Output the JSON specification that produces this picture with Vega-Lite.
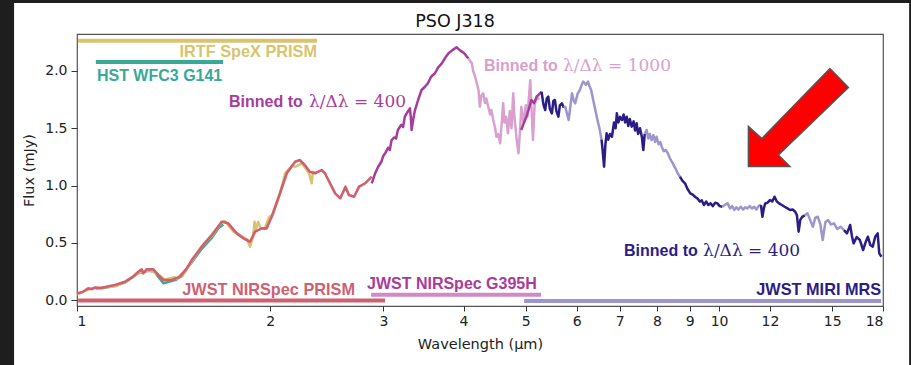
{
  "$schema": "https://vega.github.io/schema/vega-lite/v6.json",
  "width": 806,
  "height": 272,
  "autosize": {"type": "none"},
  "padding": {"left": 77, "top": 34, "right": 28, "bottom": 59},
  "background": "#ffffff",
  "title": {"text": "PSO J318", "font": "DejaVu Sans", "fontSize": 17.5, "fontWeight": "normal", "color": "#111111", "anchor": "middle", "baseline": "bottom", "offset": 0, "dy": 49, "dx": -25, "zindex": 1},
  "config": {
    "view": {"stroke": "#555555", "strokeWidth": 1.2},
    "axis": {"grid": false, "domain": false, "tickColor": "#333333", "tickSize": 5, "labelFont": "DejaVu Sans", "labelFontSize": 14, "labelColor": "#222222", "titleFont": "DejaVu Sans", "titleFontSize": 14.5, "titleFontWeight": "normal", "titleColor": "#222222"}
  },
  "datasets": {
    "spec": [
      {"s":"h1","k":"HST","w":1.07,"f":0.1},{"s":"h1","k":"HST","w":1.1,"f":0.105},{"s":"h1","k":"HST","w":1.146,"f":0.125},{"s":"h1","k":"HST","w":1.19,"f":0.155},{"s":"h1","k":"HST","w":1.246,"f":0.235},{"s":"h1","k":"HST","w":1.29,"f":0.255},{"s":"h1","k":"HST","w":1.32,"f":0.25},{"s":"h1","k":"HST","w":1.34,"f":0.2},{"s":"h1","k":"HST","w":1.363,"f":0.146},{"s":"h1","k":"HST","w":1.39,"f":0.16},{"s":"h1","k":"HST","w":1.43,"f":0.18},{"s":"h1","k":"HST","w":1.47,"f":0.25},{"s":"h1","k":"HST","w":1.51,"f":0.33},{"s":"h1","k":"HST","w":1.56,"f":0.44},{"s":"h1","k":"HST","w":1.62,"f":0.54},{"s":"h1","k":"HST","w":1.66,"f":0.626},{"s":"h1","k":"HST","w":1.69,"f":0.66},
      {"s":"s1","k":"SpeX","w":1.0,"f":0.05},{"s":"s1","k":"SpeX","w":1.05,"f":0.1},{"s":"s1","k":"SpeX","w":1.1,"f":0.11},{"s":"s1","k":"SpeX","w":1.15,"f":0.12},{"s":"s1","k":"SpeX","w":1.2,"f":0.17},{"s":"s1","k":"SpeX","w":1.25,"f":0.24},{"s":"s1","k":"SpeX","w":1.3,"f":0.26},{"s":"s1","k":"SpeX","w":1.34,"f":0.22},{"s":"s1","k":"SpeX","w":1.37,"f":0.18},{"s":"s1","k":"SpeX","w":1.42,"f":0.2},{"s":"s1","k":"SpeX","w":1.43,"f":0.185},{"s":"s1","k":"SpeX","w":1.46,"f":0.21},{"s":"s1","k":"SpeX","w":1.51,"f":0.34},{"s":"s1","k":"SpeX","w":1.56,"f":0.46},{"s":"s1","k":"SpeX","w":1.62,"f":0.56},{"s":"s1","k":"SpeX","w":1.68,"f":0.68},{"s":"s1","k":"SpeX","w":1.7,"f":0.69},{"s":"s1","k":"SpeX","w":1.75,"f":0.6},{"s":"s1","k":"SpeX","w":1.78,"f":0.58},{"s":"s1","k":"SpeX","w":1.8,"f":0.56},{"s":"s1","k":"SpeX","w":1.84,"f":0.53},{"s":"s1","k":"SpeX","w":1.86,"f":0.466},{"s":"s1","k":"SpeX","w":1.88,"f":0.55},{"s":"s1","k":"SpeX","w":1.89,"f":0.684},{"s":"s1","k":"SpeX","w":1.9,"f":0.62},{"s":"s1","k":"SpeX","w":1.915,"f":0.684},{"s":"s1","k":"SpeX","w":1.93,"f":0.63},{"s":"s1","k":"SpeX","w":1.96,"f":0.62},{"s":"s1","k":"SpeX","w":1.99,"f":0.72},{"s":"s1","k":"SpeX","w":2.02,"f":0.75},{"s":"s1","k":"SpeX","w":2.07,"f":0.93},{"s":"s1","k":"SpeX","w":2.11,"f":1.107},{"s":"s1","k":"SpeX","w":2.13,"f":1.135},{"s":"s1","k":"SpeX","w":2.16,"f":1.17},{"s":"s1","k":"SpeX","w":2.19,"f":1.164},{"s":"s1","k":"SpeX","w":2.24,"f":1.194},{"s":"s1","k":"SpeX","w":2.27,"f":1.15},{"s":"s1","k":"SpeX","w":2.3,"f":1.1},{"s":"s1","k":"SpeX","w":2.32,"f":1.019},{"s":"s1","k":"SpeX","w":2.33,"f":1.12},{"s":"s1","k":"SpeX","w":2.36,"f":1.1},
      {"s":"p1","k":"PRISM","w":1.0,"f":0.058},{"s":"p1","k":"PRISM","w":1.02,"f":0.07},{"s":"p1","k":"PRISM","w":1.041,"f":0.102},{"s":"p1","k":"PRISM","w":1.055,"f":0.095},{"s":"p1","k":"PRISM","w":1.067,"f":0.11},{"s":"p1","k":"PRISM","w":1.09,"f":0.105},{"s":"p1","k":"PRISM","w":1.12,"f":0.12},{"s":"p1","k":"PRISM","w":1.146,"f":0.131},{"s":"p1","k":"PRISM","w":1.188,"f":0.16},{"s":"p1","k":"PRISM","w":1.22,"f":0.2},{"s":"p1","k":"PRISM","w":1.246,"f":0.247},{"s":"p1","k":"PRISM","w":1.261,"f":0.268},{"s":"p1","k":"PRISM","w":1.268,"f":0.233},{"s":"p1","k":"PRISM","w":1.284,"f":0.268},{"s":"p1","k":"PRISM","w":1.315,"f":0.268},{"s":"p1","k":"PRISM","w":1.339,"f":0.218},{"s":"p1","k":"PRISM","w":1.363,"f":0.175},{"s":"p1","k":"PRISM","w":1.404,"f":0.175},{"s":"p1","k":"PRISM","w":1.447,"f":0.204},{"s":"p1","k":"PRISM","w":1.48,"f":0.27},{"s":"p1","k":"PRISM","w":1.509,"f":0.349},{"s":"p1","k":"PRISM","w":1.564,"f":0.466},{"s":"p1","k":"PRISM","w":1.621,"f":0.568},{"s":"p1","k":"PRISM","w":1.681,"f":0.684},{"s":"p1","k":"PRISM","w":1.72,"f":0.67},{"s":"p1","k":"PRISM","w":1.773,"f":0.582},{"s":"p1","k":"PRISM","w":1.816,"f":0.539},{"s":"p1","k":"PRISM","w":1.86,"f":0.509},{"s":"p1","k":"PRISM","w":1.894,"f":0.597},{"s":"p1","k":"PRISM","w":1.94,"f":0.626},{"s":"p1","k":"PRISM","w":1.974,"f":0.626},{"s":"p1","k":"PRISM","w":2.01,"f":0.727},{"s":"p1","k":"PRISM","w":2.071,"f":0.932},{"s":"p1","k":"PRISM","w":2.122,"f":1.107},{"s":"p1","k":"PRISM","w":2.186,"f":1.208},{"s":"p1","k":"PRISM","w":2.223,"f":1.223},{"s":"p1","k":"PRISM","w":2.263,"f":1.179},{"s":"p1","k":"PRISM","w":2.304,"f":1.121},{"s":"p1","k":"PRISM","w":2.347,"f":1.107},{"s":"p1","k":"PRISM","w":2.404,"f":1.135},{"s":"p1","k":"PRISM","w":2.433,"f":1.107},{"s":"p1","k":"PRISM","w":2.478,"f":1.019},{"s":"p1","k":"PRISM","w":2.524,"f":0.932},{"s":"p1","k":"PRISM","w":2.571,"f":0.888},{"s":"p1","k":"PRISM","w":2.619,"f":0.99},{"s":"p1","k":"PRISM","w":2.651,"f":0.917},{"s":"p1","k":"PRISM","w":2.701,"f":0.902},{"s":"p1","k":"PRISM","w":2.75,"f":0.99},{"s":"p1","k":"PRISM","w":2.81,"f":1.019},{"s":"p1","k":"PRISM","w":2.878,"f":1.077},
      {"s":"k1","k":"G1000","w":4.07,"f":2.11},{"s":"k1","k":"G1000","w":4.12,"f":2.067},{"s":"k1","k":"G1000","w":4.14,"f":2.0},{"s":"k1","k":"G1000","w":4.17,"f":1.95},{"s":"k1","k":"G1000","w":4.2,"f":1.88},{"s":"k1","k":"G1000","w":4.22,"f":1.834},{"s":"k1","k":"G1000","w":4.24,"f":1.688},{"s":"k1","k":"G1000","w":4.26,"f":1.78},{"s":"k1","k":"G1000","w":4.29,"f":1.805},{"s":"k1","k":"G1000","w":4.32,"f":1.72},{"s":"k1","k":"G1000","w":4.34,"f":1.76},{"s":"k1","k":"G1000","w":4.37,"f":1.688},{"s":"k1","k":"G1000","w":4.4,"f":1.62},{"s":"k1","k":"G1000","w":4.42,"f":1.66},{"s":"k1","k":"G1000","w":4.45,"f":1.572},{"s":"k1","k":"G1000","w":4.48,"f":1.5},{"s":"k1","k":"G1000","w":4.5,"f":1.426},{"s":"k1","k":"G1000","w":4.53,"f":1.45},{"s":"k1","k":"G1000","w":4.56,"f":1.369},{"s":"k1","k":"G1000","w":4.58,"f":1.5},{"s":"k1","k":"G1000","w":4.61,"f":1.718},{"s":"k1","k":"G1000","w":4.63,"f":1.55},{"s":"k1","k":"G1000","w":4.66,"f":1.6},{"s":"k1","k":"G1000","w":4.69,"f":1.456},{"s":"k1","k":"G1000","w":4.72,"f":1.65},{"s":"k1","k":"G1000","w":4.75,"f":1.5},{"s":"k1","k":"G1000","w":4.78,"f":1.805},{"s":"k1","k":"G1000","w":4.8,"f":1.6},{"s":"k1","k":"G1000","w":4.84,"f":1.397},{"s":"k1","k":"G1000","w":4.87,"f":1.281},{"s":"k1","k":"G1000","w":4.9,"f":1.5},{"s":"k1","k":"G1000","w":4.92,"f":1.688},{"s":"k1","k":"G1000","w":4.96,"f":1.55},{"s":"k1","k":"G1000","w":5.0,"f":1.7},{"s":"k1","k":"G1000","w":5.03,"f":1.6},{"s":"k1","k":"G1000","w":5.08,"f":1.92},{"s":"k1","k":"G1000","w":5.11,"f":1.6},{"s":"k1","k":"G1000","w":5.13,"f":1.397},{"s":"k1","k":"G1000","w":5.16,"f":1.7},{"s":"k1","k":"G1000","w":5.2,"f":1.78},{"s":"k1","k":"G1000","w":5.24,"f":1.75},
      {"s":"g1","k":"G395H","w":2.878,"f":1.019},{"s":"g1","k":"G395H","w":2.91,"f":1.1},{"s":"g1","k":"G395H","w":2.945,"f":1.164},{"s":"g1","k":"G395H","w":2.98,"f":1.21},{"s":"g1","k":"G395H","w":3.0,"f":1.26},{"s":"g1","k":"G395H","w":3.02,"f":1.281},{"s":"g1","k":"G395H","w":3.05,"f":1.33},{"s":"g1","k":"G395H","w":3.07,"f":1.31},{"s":"g1","k":"G395H","w":3.09,"f":1.397},{"s":"g1","k":"G395H","w":3.12,"f":1.42},{"s":"g1","k":"G395H","w":3.14,"f":1.41},{"s":"g1","k":"G395H","w":3.16,"f":1.485},{"s":"g1","k":"G395H","w":3.2,"f":1.53},{"s":"g1","k":"G395H","w":3.22,"f":1.51},{"s":"g1","k":"G395H","w":3.24,"f":1.601},{"s":"g1","k":"G395H","w":3.27,"f":1.64},{"s":"g1","k":"G395H","w":3.3,"f":1.674},{"s":"g1","k":"G395H","w":3.31,"f":1.6},{"s":"g1","k":"G395H","w":3.32,"f":1.485},{"s":"g1","k":"G395H","w":3.34,"f":1.58},{"s":"g1","k":"G395H","w":3.36,"f":1.659},{"s":"g1","k":"G395H","w":3.4,"f":1.75},{"s":"g1","k":"G395H","w":3.44,"f":1.834},{"s":"g1","k":"G395H","w":3.48,"f":1.86},{"s":"g1","k":"G395H","w":3.52,"f":1.893},{"s":"g1","k":"G395H","w":3.56,"f":1.95},{"s":"g1","k":"G395H","w":3.61,"f":1.98},{"s":"g1","k":"G395H","w":3.65,"f":2.03},{"s":"g1","k":"G395H","w":3.7,"f":2.067},{"s":"g1","k":"G395H","w":3.75,"f":2.12},{"s":"g1","k":"G395H","w":3.79,"f":2.155},{"s":"g1","k":"G395H","w":3.84,"f":2.18},{"s":"g1","k":"G395H","w":3.9,"f":2.207},{"s":"g1","k":"G395H","w":3.95,"f":2.18},{"s":"g1","k":"G395H","w":4.01,"f":2.155},{"s":"g1","k":"G395H","w":4.04,"f":2.13},{"s":"g1","k":"G395H","w":4.07,"f":2.11},
      {"s":"g2","k":"G395H","w":4.92,"f":1.485},{"s":"g2","k":"G395H","w":4.96,"f":1.54},{"s":"g2","k":"G395H","w":5.01,"f":1.601},{"s":"g2","k":"G395H","w":5.05,"f":1.66},{"s":"g2","k":"G395H","w":5.1,"f":1.747},{"s":"g2","k":"G395H","w":5.15,"f":1.72},{"s":"g2","k":"G395H","w":5.2,"f":1.776},{"s":"g2","k":"G395H","w":5.26,"f":1.805},{"s":"g2","k":"G395H","w":5.29,"f":1.819},
      {"s":"m1","k":"MIRI400","w":5.29,"f":1.819},{"s":"m1","k":"MIRI400","w":5.33,"f":1.7},{"s":"m1","k":"MIRI400","w":5.36,"f":1.659},{"s":"m1","k":"MIRI400","w":5.39,"f":1.76},{"s":"m1","k":"MIRI400","w":5.42,"f":1.776},{"s":"m1","k":"MIRI400","w":5.45,"f":1.67},{"s":"m1","k":"MIRI400","w":5.49,"f":1.63},{"s":"m1","k":"MIRI400","w":5.52,"f":1.74},{"s":"m1","k":"MIRI400","w":5.55,"f":1.747},{"s":"m1","k":"MIRI400","w":5.58,"f":1.65},{"s":"m1","k":"MIRI400","w":5.62,"f":1.601},{"s":"m1","k":"MIRI400","w":5.65,"f":1.7},{"s":"m1","k":"MIRI400","w":5.69,"f":1.718},{"s":"m1","k":"MIRI400","w":5.73,"f":1.68},
      {"s":"l1","k":"MIRI","w":5.73,"f":1.68},{"s":"l1","k":"MIRI","w":5.76,"f":1.688},{"s":"l1","k":"MIRI","w":5.8,"f":1.62},{"s":"l1","k":"MIRI","w":5.83,"f":1.572},{"s":"l1","k":"MIRI","w":5.87,"f":1.7},{"s":"l1","k":"MIRI","w":5.9,"f":1.805},{"s":"l1","k":"MIRI","w":5.94,"f":1.74},{"s":"l1","k":"MIRI","w":5.97,"f":1.718},{"s":"l1","k":"MIRI","w":6.02,"f":1.8},{"s":"l1","k":"MIRI","w":6.07,"f":1.834},{"s":"l1","k":"MIRI","w":6.1,"f":1.87},{"s":"l1","k":"MIRI","w":6.14,"f":1.907},{"s":"l1","k":"MIRI","w":6.2,"f":1.88},{"s":"l1","k":"MIRI","w":6.25,"f":1.907},{"s":"l1","k":"MIRI","w":6.28,"f":1.87},{"s":"l1","k":"MIRI","w":6.32,"f":1.834},{"s":"l1","k":"MIRI","w":6.36,"f":1.76},{"s":"l1","k":"MIRI","w":6.4,"f":1.688},{"s":"l1","k":"MIRI","w":6.46,"f":1.58},{"s":"l1","k":"MIRI","w":6.52,"f":1.485},{"s":"l1","k":"MIRI","w":6.56,"f":1.4},
      {"s":"m2","k":"MIRI400","w":6.56,"f":1.4},{"s":"m2","k":"MIRI400","w":6.58,"f":1.33},{"s":"m2","k":"MIRI400","w":6.62,"f":1.164},{"s":"m2","k":"MIRI400","w":6.65,"f":1.35},{"s":"m2","k":"MIRI400","w":6.68,"f":1.456},{"s":"m2","k":"MIRI400","w":6.72,"f":1.4},{"s":"m2","k":"MIRI400","w":6.76,"f":1.45},{"s":"m2","k":"MIRI400","w":6.81,"f":1.426},{"s":"m2","k":"MIRI400","w":6.86,"f":1.55},{"s":"m2","k":"MIRI400","w":6.9,"f":1.5},{"s":"m2","k":"MIRI400","w":6.93,"f":1.63},{"s":"m2","k":"MIRI400","w":6.97,"f":1.55},{"s":"m2","k":"MIRI400","w":7.01,"f":1.6},{"s":"m2","k":"MIRI400","w":7.06,"f":1.572},{"s":"m2","k":"MIRI400","w":7.1,"f":1.62},{"s":"m2","k":"MIRI400","w":7.14,"f":1.55},{"s":"m2","k":"MIRI400","w":7.18,"f":1.601},{"s":"m2","k":"MIRI400","w":7.22,"f":1.52},{"s":"m2","k":"MIRI400","w":7.26,"f":1.58},{"s":"m2","k":"MIRI400","w":7.31,"f":1.514},{"s":"m2","k":"MIRI400","w":7.36,"f":1.56},{"s":"m2","k":"MIRI400","w":7.4,"f":1.48},{"s":"m2","k":"MIRI400","w":7.44,"f":1.543},{"s":"m2","k":"MIRI400","w":7.48,"f":1.45},{"s":"m2","k":"MIRI400","w":7.53,"f":1.5},{"s":"m2","k":"MIRI400","w":7.58,"f":1.426},{"s":"m2","k":"MIRI400","w":7.62,"f":1.31},{"s":"m2","k":"MIRI400","w":7.66,"f":1.45},
      {"s":"l2","k":"MIRI","w":7.66,"f":1.45},{"s":"l2","k":"MIRI","w":7.71,"f":1.485},{"s":"l2","k":"MIRI","w":7.76,"f":1.41},{"s":"l2","k":"MIRI","w":7.8,"f":1.45},{"s":"l2","k":"MIRI","w":7.85,"f":1.397},{"s":"l2","k":"MIRI","w":7.9,"f":1.44},{"s":"l2","k":"MIRI","w":7.95,"f":1.38},{"s":"l2","k":"MIRI","w":7.99,"f":1.426},{"s":"l2","k":"MIRI","w":8.05,"f":1.36},{"s":"l2","k":"MIRI","w":8.1,"f":1.38},{"s":"l2","k":"MIRI","w":8.14,"f":1.339},{"s":"l2","k":"MIRI","w":8.2,"f":1.3},{"s":"l2","k":"MIRI","w":8.26,"f":1.31},{"s":"l2","k":"MIRI","w":8.32,"f":1.281},{"s":"l2","k":"MIRI","w":8.38,"f":1.24},{"s":"l2","k":"MIRI","w":8.47,"f":1.194},{"s":"l2","k":"MIRI","w":8.55,"f":1.15},{"s":"l2","k":"MIRI","w":8.62,"f":1.107},{"s":"l2","k":"MIRI","w":8.69,"f":1.077},
      {"s":"m3","k":"MIRI400","w":8.69,"f":1.077},{"s":"m3","k":"MIRI400","w":8.77,"f":1.04},{"s":"m3","k":"MIRI400","w":8.85,"f":1.019},{"s":"m3","k":"MIRI400","w":8.93,"f":0.97},{"s":"m3","k":"MIRI400","w":9.02,"f":0.932},{"s":"m3","k":"MIRI400","w":9.1,"f":0.92},{"s":"m3","k":"MIRI400","w":9.18,"f":0.9},{"s":"m3","k":"MIRI400","w":9.25,"f":0.888},{"s":"m3","k":"MIRI400","w":9.33,"f":0.86},{"s":"m3","k":"MIRI400","w":9.4,"f":0.87},{"s":"m3","k":"MIRI400","w":9.47,"f":0.83},{"s":"m3","k":"MIRI400","w":9.55,"f":0.86},{"s":"m3","k":"MIRI400","w":9.62,"f":0.83},{"s":"m3","k":"MIRI400","w":9.7,"f":0.844},{"s":"m3","k":"MIRI400","w":9.78,"f":0.82},{"s":"m3","k":"MIRI400","w":9.86,"f":0.85},{"s":"m3","k":"MIRI400","w":9.94,"f":0.844},{"s":"m3","k":"MIRI400","w":10.02,"f":0.82},{"s":"m3","k":"MIRI400","w":10.12,"f":0.815},
      {"s":"l3","k":"MIRI","w":10.12,"f":0.815},{"s":"l3","k":"MIRI","w":10.2,"f":0.83},{"s":"l3","k":"MIRI","w":10.31,"f":0.844},{"s":"l3","k":"MIRI","w":10.4,"f":0.8},{"s":"l3","k":"MIRI","w":10.48,"f":0.82},{"s":"l3","k":"MIRI","w":10.56,"f":0.786},{"s":"l3","k":"MIRI","w":10.64,"f":0.81},{"s":"l3","k":"MIRI","w":10.72,"f":0.79},{"s":"l3","k":"MIRI","w":10.81,"f":0.815},{"s":"l3","k":"MIRI","w":10.9,"f":0.79},{"s":"l3","k":"MIRI","w":10.98,"f":0.81},{"s":"l3","k":"MIRI","w":11.07,"f":0.8},{"s":"l3","k":"MIRI","w":11.16,"f":0.82},{"s":"l3","k":"MIRI","w":11.25,"f":0.8},{"s":"l3","k":"MIRI","w":11.34,"f":0.815},{"s":"l3","k":"MIRI","w":11.43,"f":0.79},{"s":"l3","k":"MIRI","w":11.52,"f":0.82},{"s":"l3","k":"MIRI","w":11.62,"f":0.83},
      {"s":"m4","k":"MIRI400","w":11.62,"f":0.83},{"s":"m4","k":"MIRI400","w":11.68,"f":0.727},{"s":"m4","k":"MIRI400","w":11.74,"f":0.8},{"s":"m4","k":"MIRI400","w":11.8,"f":0.844},{"s":"m4","k":"MIRI400","w":11.9,"f":0.85},{"s":"m4","k":"MIRI400","w":12.0,"f":0.873},{"s":"m4","k":"MIRI400","w":12.1,"f":0.86},{"s":"m4","k":"MIRI400","w":12.2,"f":0.902},{"s":"m4","k":"MIRI400","w":12.3,"f":0.86},{"s":"m4","k":"MIRI400","w":12.4,"f":0.844},{"s":"m4","k":"MIRI400","w":12.52,"f":0.83},{"s":"m4","k":"MIRI400","w":12.65,"f":0.815},{"s":"m4","k":"MIRI400","w":12.78,"f":0.8},{"s":"m4","k":"MIRI400","w":12.9,"f":0.786},{"s":"m4","k":"MIRI400","w":13.02,"f":0.79},{"s":"m4","k":"MIRI400","w":13.14,"f":0.771},{"s":"m4","k":"MIRI400","w":13.22,"f":0.74},{"s":"m4","k":"MIRI400","w":13.3,"f":0.597},{"s":"m4","k":"MIRI400","w":13.38,"f":0.7},{"s":"m4","k":"MIRI400","w":13.47,"f":0.727},{"s":"m4","k":"MIRI400","w":13.6,"f":0.74},
      {"s":"l4","k":"MIRI","w":13.6,"f":0.74},{"s":"l4","k":"MIRI","w":13.73,"f":0.757},{"s":"l4","k":"MIRI","w":13.86,"f":0.7},{"s":"l4","k":"MIRI","w":14.0,"f":0.64},{"s":"l4","k":"MIRI","w":14.12,"f":0.72},{"s":"l4","k":"MIRI","w":14.25,"f":0.727},{"s":"l4","k":"MIRI","w":14.38,"f":0.66},{"s":"l4","k":"MIRI","w":14.5,"f":0.524},{"s":"l4","k":"MIRI","w":14.64,"f":0.68},{"s":"l4","k":"MIRI","w":14.78,"f":0.699},{"s":"l4","k":"MIRI","w":14.94,"f":0.66},{"s":"l4","k":"MIRI","w":15.1,"f":0.67},{"s":"l4","k":"MIRI","w":15.28,"f":0.62},{"s":"l4","k":"MIRI","w":15.47,"f":0.64},{"s":"l4","k":"MIRI","w":15.65,"f":0.611},
      {"s":"m5","k":"MIRI400","w":15.65,"f":0.611},{"s":"m5","k":"MIRI400","w":15.82,"f":0.582},{"s":"m5","k":"MIRI400","w":16.0,"f":0.655},{"s":"m5","k":"MIRI400","w":16.1,"f":0.56},{"s":"m5","k":"MIRI400","w":16.2,"f":0.495},{"s":"m5","k":"MIRI400","w":16.38,"f":0.55},{"s":"m5","k":"MIRI400","w":16.57,"f":0.524},{"s":"m5","k":"MIRI400","w":16.76,"f":0.437},{"s":"m5","k":"MIRI400","w":16.9,"f":0.5},{"s":"m5","k":"MIRI400","w":17.05,"f":0.553},{"s":"m5","k":"MIRI400","w":17.2,"f":0.48},{"s":"m5","k":"MIRI400","w":17.35,"f":0.466},{"s":"m5","k":"MIRI400","w":17.5,"f":0.55},{"s":"m5","k":"MIRI400","w":17.66,"f":0.582},{"s":"m5","k":"MIRI400","w":17.76,"f":0.408},{"s":"m5","k":"MIRI400","w":17.9,"f":0.378}
    ],
    "bars": [
      {"name":"IRTF SpeX PRISM","k":"SpeX","w1":1.004,"w2":2.365,"f":2.265},
      {"name":"HST WFC3 G141","k":"HST","w1":1.07,"w2":1.688,"f":2.079},
      {"name":"JWST NIRSpec PRISM","k":"PRISM","w1":1.004,"w2":3.018,"f":-0.003},
      {"name":"JWST NIRSpec G395H","k":"G395Hbar","w1":2.871,"w2":5.28,"f":0.046},
      {"name":"JWST MIRI MRS","k":"MIRI","w1":4.97,"w2":17.88,"f":-0.009}
    ],
    "labelsLeft": [
      {"t":"HST WFC3 G141","k":"HST","w":1.074,"f":1.956},
      {"t":"Binned to","k":"G395H","w":1.725,"f":1.732},
      {"t":"Binned to","k":"G1000","w":4.305,"f":2.044},
      {"t":"Binned to","k":"MIRI400","w":7.11,"f":0.428},
      {"t":"JWST NIRSpec G395H","k":"G395H","w":2.829,"f":0.14}
    ],
    "labelsRight": [
      {"t":"IRTF SpeX PRISM","k":"SpeX","w":2.365,"f":2.169},
      {"t":"JWST NIRSpec PRISM","k":"PRISM","w":2.71,"f":0.087},
      {"t":"JWST MIRI MRS","k":"MIRI400","w":17.88,"f":0.087}
    ],
    "labelsMath": [
      {"t":"λ/Δλ = 400","k":"G395H","w":2.298,"f":1.732},
      {"t":"λ/Δλ = 1000","k":"G1000","w":5.715,"f":2.044},
      {"t":"λ/Δλ = 400","k":"MIRI400","w":9.443,"f":0.428}
    ]
  },
  "layer": [
    {
      "data": {"values": [{}]},
      "mark": {"type": "rect", "fill": "#1e1e1e"},
      "encoding": {
        "x": {"datum": 0.6, "type": "quantitative", "scale": {"type": "log", "domain": [1, 18], "nice": false}, "axis": {"values": [1,2,3,4,5,6,7,8,9,10,12,15,18], "format": "d", "title": "Wavelength (µm)", "labelPadding": 3, "titlePadding": 9}},
        "x2": {"datum": 0.798},
        "y": {"datum": 2.62, "type": "quantitative", "scale": {"domain": [-0.052, 2.323], "nice": false, "zero": false}, "axis": {"values": [0, 0.5, 1, 1.5, 2], "format": ".1f", "title": "Flux (mJy)", "tickSize": 6, "labelPadding": 4, "titlePadding": 8}},
        "y2": {"datum": -0.8}
      }
    },
    {
      "data": {"values": [{}]},
      "mark": {"type": "rect", "fill": "#1e1e1e"},
      "encoding": {
        "x": {"datum": 0.6, "type": "quantitative"},
        "x2": {"datum": 25},
        "y": {"datum": 2.62, "type": "quantitative"},
        "y2": {"datum": 2.594}
      }
    },
    {
      "data": {"values": [{}]},
      "mark": {"type": "rect", "fill": "#1e1e1e"},
      "encoding": {
        "x": {"datum": 19.77, "type": "quantitative"},
        "x2": {"datum": 25},
        "y": {"datum": 2.62, "type": "quantitative"},
        "y2": {"datum": -0.8}
      }
    },
    {
      "data": {"name": "bars"},
      "mark": {"type": "rule", "strokeWidth": 4, "strokeCap": "butt"},
      "encoding": {
        "x": {"field": "w1", "type": "quantitative"},
        "x2": {"field": "w2"},
        "y": {"field": "f", "type": "quantitative"},
        "color": {"field": "k", "type": "nominal", "legend": null, "scale": {"domain": ["SpeX","HST","PRISM","G395H","G395Hbar","G1000","MIRI400","MIRI"], "range": ["#d9c46e","#3aa896","#d1606f","#a83c9c","#d08ac8","#d9a0cf","#2c1d86","#9d95cc"]}}
      }
    },
    {
      "data": {"name": "spec"},
      "transform": [{"filter": "datum.k === 'HST' || datum.k === 'SpeX'"}],
      "mark": {"type": "line", "strokeWidth": 2.5, "strokeJoin": "round"},
      "encoding": {
        "x": {"field": "w", "type": "quantitative"},
        "y": {"field": "f", "type": "quantitative"},
        "detail": {"field": "s"},
        "color": {"field": "k", "type": "nominal", "legend": null}
      }
    },
    {
      "data": {"name": "spec"},
      "transform": [{"filter": "datum.k === 'PRISM'"}],
      "mark": {"type": "line", "strokeWidth": 2.6, "strokeJoin": "round"},
      "encoding": {
        "x": {"field": "w", "type": "quantitative"},
        "y": {"field": "f", "type": "quantitative"},
        "detail": {"field": "s"},
        "color": {"field": "k", "type": "nominal", "legend": null}
      }
    },
    {
      "data": {"name": "spec"},
      "transform": [{"filter": "datum.k === 'G1000'"}],
      "mark": {"type": "line", "strokeWidth": 2.5, "strokeJoin": "round"},
      "encoding": {
        "x": {"field": "w", "type": "quantitative"},
        "y": {"field": "f", "type": "quantitative"},
        "detail": {"field": "s"},
        "color": {"field": "k", "type": "nominal", "legend": null}
      }
    },
    {
      "data": {"name": "spec"},
      "transform": [{"filter": "datum.k === 'G395H'"}],
      "mark": {"type": "line", "strokeWidth": 2.5, "strokeJoin": "round"},
      "encoding": {
        "x": {"field": "w", "type": "quantitative"},
        "y": {"field": "f", "type": "quantitative"},
        "detail": {"field": "s"},
        "color": {"field": "k", "type": "nominal", "legend": null}
      }
    },
    {
      "data": {"name": "spec"},
      "transform": [{"filter": "datum.k === 'MIRI' || datum.k === 'MIRI400'"}],
      "mark": {"type": "line", "strokeWidth": 2.5, "strokeJoin": "round"},
      "encoding": {
        "x": {"field": "w", "type": "quantitative"},
        "y": {"field": "f", "type": "quantitative"},
        "detail": {"field": "s"},
        "color": {"field": "k", "type": "nominal", "legend": null}
      }
    },
    {
      "data": {"name": "labelsLeft"},
      "mark": {"type": "text", "align": "left", "baseline": "middle", "font": "Liberation Sans", "fontWeight": "bold", "fontSize": 16},
      "encoding": {
        "x": {"field": "w", "type": "quantitative"},
        "y": {"field": "f", "type": "quantitative"},
        "text": {"field": "t"},
        "color": {"field": "k", "type": "nominal", "legend": null}
      }
    },
    {
      "data": {"name": "labelsRight"},
      "mark": {"type": "text", "align": "right", "baseline": "middle", "font": "Liberation Sans", "fontWeight": "bold", "fontSize": 16.3},
      "encoding": {
        "x": {"field": "w", "type": "quantitative"},
        "y": {"field": "f", "type": "quantitative"},
        "text": {"field": "t"},
        "color": {"field": "k", "type": "nominal", "legend": null}
      }
    },
    {
      "data": {"name": "labelsMath"},
      "mark": {"type": "text", "align": "left", "baseline": "middle", "font": "DejaVu Serif", "fontSize": 17},
      "encoding": {
        "x": {"field": "w", "type": "quantitative"},
        "y": {"field": "f", "type": "quantitative"},
        "text": {"field": "t"},
        "color": {"field": "k", "type": "nominal", "legend": null}
      }
    },
    {
      "data": {"values": [{}]},
      "mark": {"type": "point", "shape": "M-1,0.98L-1,0.18L-0.73,0.42L0.63,-0.98L1,-0.6L-0.4,0.75L-0.17,0.98Z", "size": 10000, "filled": true, "fill": "#ff0000", "stroke": "#555555", "strokeWidth": 1.5, "opacity": 1},
      "encoding": {
        "x": {"datum": 13.29, "type": "quantitative"},
        "y": {"datum": 1.594, "type": "quantitative"}
      }
    }
  ]
}
